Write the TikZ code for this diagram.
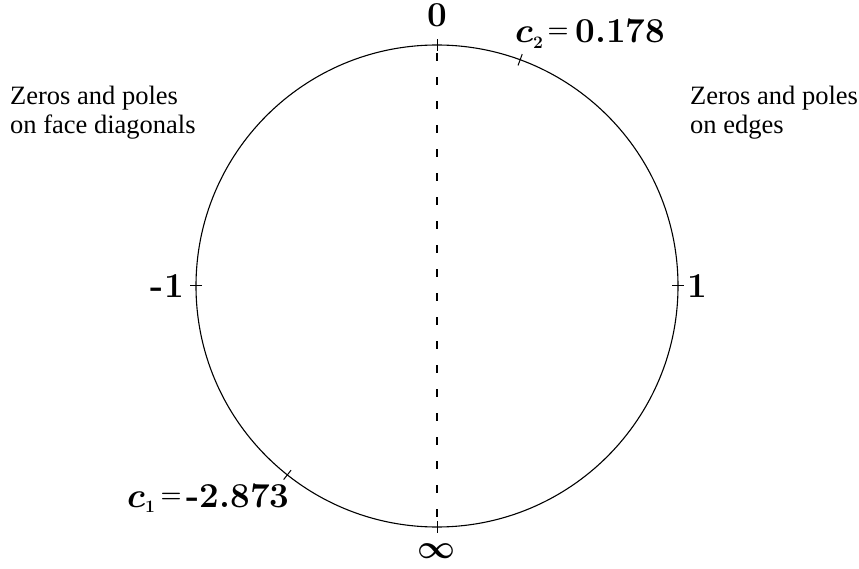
\RequirePackage{fix-cm}
\documentclass[tikz,border=0pt]{standalone}
\usepackage{fontspec}
\newfontfamily\sidefont{Liberation Serif}[Ligatures=TeX]
\newcommand{\smalleq}{\raisebox{5pt}{\fontsize{24}{24}\selectfont$=$}}
\begin{document}
\begin{tikzpicture}[x=1pt,y=1pt,
  ring/.style={draw, circle, line width=1.1pt, minimum size=482pt, inner sep=0pt},
  tickmark/.style={line width=1pt},
  axisline/.style={line width=1.8pt, dash pattern=on 8pt off 16pt, dash phase=15pt},
  biglabel/.style={inner sep=0pt, font=\fontsize{35}{40}\selectfont\bfseries\boldmath},
  sidelabel/.style={inner sep=0pt, align=left, font={\sidefont\fontsize{26.5}{29}\selectfont}}
]
\useasboundingbox (0,0) rectangle (859,568);
\coordinate (O) at (437,282);
\node[ring] (circ) at (O) {};
\draw[axisline] (circ.north) -- (circ.south);
\foreach \a in {0,90,180,270,69.82,231.61}{
  \draw[tickmark] (O) ++(\a:235) -- ++(\a:12);
}
\node[biglabel, anchor=base] (zero) at (437,541) {0};
\node[biglabel, anchor=base, font=\fontsize{33}{38}\selectfont\boldmath] (inf) at (436,10) {$\infty$};
\node[biglabel, anchor=base east] (mone) at (184,270) {-1};
\node[biglabel, anchor=base west] (one) at (687,270) {1};
\node[biglabel, anchor=base west] (ctwo) at (515,525) {$c_{\scriptscriptstyle 2}$\kern4pt\smalleq\kern7pt0.178};
\node[biglabel, anchor=base west] (cone) at (127,61) {$c_{\scriptscriptstyle 1}$\kern5pt\smalleq\kern5pt-2.873};
\node[sidelabel, anchor=base west] (lefttext) at (10,434) {Zeros and poles\\on face diagonals};
\node[sidelabel, anchor=base west] (righttext) at (690,434) {Zeros and poles\\on edges};
\end{tikzpicture}
\end{document}
